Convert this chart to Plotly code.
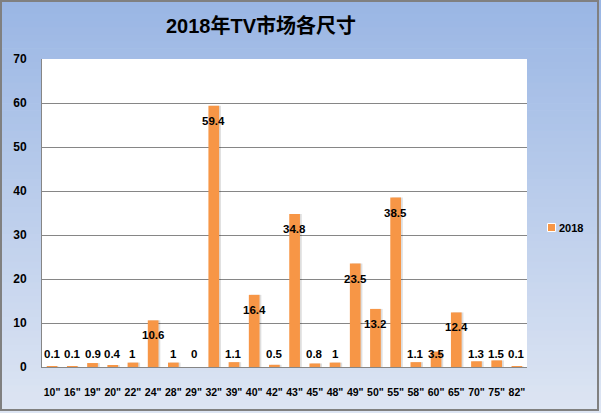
import plotly.graph_objects as go

categories = ['10"', '16"', '19"', '20"', '22"', '24"', '28"', '29"', '32"', '39"', '40"', '42"',
              '43"', '45"', '48"', '49"', '50"', '55"', '58"', '60"', '65"', '70"', '75"', '82"']
values_2018 = [0.1, 0.1, 0.9, 0.4, 1, 10.6, 1, 0, 59.4, 1.1, 16.4, 0.5,
               34.8, 0.8, 1, 23.5, 13.2, 38.5, 1.1, 3.5, 12.4, 1.3, 1.5, 0.1]
y_ticks = [0, 10, 20, 30, 40, 50, 60, 70]
series_name = "2018"
title_text = "2018年TV市场各尺寸"

W, H = 601, 413
ML, MR, MT, MB = 42, 74, 59, 46
pw, ph = W - ML - MR, H - MT - MB

BAR = "#F79646"
GRID = "#868686"
FONT = "Liberation Sans, Noto Sans CJK SC, sans-serif"


def px_x(p):
    return (p - ML) / pw


def px_y(p):
    return (H - MB - p) / ph


fig = go.Figure()
bw = 0.53
# soft shadow
fig.add_trace(go.Bar(x=categories, y=values_2018, width=bw, offset=-bw / 2 + 0.09,
                     marker=dict(color="rgba(0,0,0,0.13)", line=dict(width=0)),
                     showlegend=False, hoverinfo="skip"))
fig.add_trace(go.Bar(x=categories, y=values_2018, width=bw, offset=-bw / 2, name=series_name,
                     marker=dict(color=BAR, line=dict(width=0)), showlegend=False))

# data labels
ymax = 70
unit_px = ph / ymax
annotations = []
for c, v in zip(categories, values_2018):
    ypos = max(v - 15 / unit_px, 13 / unit_px)
    annotations.append(dict(x=c, y=ypos, xref="x", yref="y", text=str(v),
                            showarrow=False, yanchor="middle",
                            font=dict(family=FONT, size=11.5, color="#000", weight="bold")))
annotations.append(dict(x=px_x(261), y=px_y(26), xref="paper", yref="paper",
                        text=title_text, showarrow=False, xanchor="center", yanchor="middle",
                        font=dict(family=FONT, size=20, color="#000", weight="bold")))
# legend entry
annotations.append(dict(x=px_x(557), y=px_y(227.5), xref="paper", yref="paper",
                        text=series_name, showarrow=False, xanchor="left", yanchor="middle",
                        font=dict(family=FONT, size=11, color="#000", weight="bold")))

# background gradient
shapes = []
top = (0x9A, 0xB6, 0xE4)
bot = (0xDD, 0xE5, 0xF3)
N = 60
x0p, x1p = -ML / pw, 1 + MR / pw
for i in range(N):
    t = i / (N - 1)
    col = tuple(round(top[k] + (bot[k] - top[k]) * t) for k in range(3))
    ya = 1 + MT / ph - (H / ph) * i / N
    yb = 1 + MT / ph - (H / ph) * (i + 1) / N
    shapes.append(dict(type="rect", xref="paper", yref="paper", x0=x0p, x1=x1p, y0=yb - 0.002, y1=ya,
                       fillcolor="rgb(%d,%d,%d)" % col, line=dict(width=0), layer="below"))
shapes.append(dict(type="rect", xref="paper", yref="paper", x0=0, x1=1, y0=0, y1=1,
                   fillcolor="white", line=dict(width=0), layer="below"))
shapes.append(dict(type="rect", xref="paper", yref="paper",
                   x0=px_x(1), x1=px_x(W - 3), y0=px_y(H - 3), y1=px_y(1),
                   fillcolor="rgba(0,0,0,0)", line=dict(width=2, color="#808080"), layer="above"))
# legend swatch
shapes.append(dict(type="rect", xref="paper", yref="paper",
                   x0=px_x(547.5), x1=px_x(555.5), y0=px_y(231.5), y1=px_y(223.5),
                   fillcolor=BAR, line=dict(width=1, color="white"), layer="above"))

fig.update_layout(
    width=W, height=H,
    margin=dict(l=ML, r=MR, t=MT, b=MB, pad=0, autoexpand=False),
    paper_bgcolor="#C6D4EC", plot_bgcolor="white",
    barmode="overlay",
    shapes=shapes, annotations=annotations,
    showlegend=False,
    font=dict(family=FONT),
)
fig.update_xaxes(type="category", showline=True, linecolor=GRID, linewidth=1, showgrid=False,
                 ticks="", tickfont=dict(family=FONT, size=10.5, color="#000", weight="bold"),
                 ticklabelstandoff=15, tickangle=0, range=[-0.5, len(categories) - 0.5])
fig.update_yaxes(range=[0, ymax], tickvals=y_ticks, showline=True, linecolor=GRID, linewidth=1,
                 showgrid=True, gridcolor=GRID, gridwidth=1, zeroline=False, ticks="",
                 tickfont=dict(family=FONT, size=12, color="#000", weight="bold"),
                 ticklabelstandoff=12)

fig.write_html("out.html")
